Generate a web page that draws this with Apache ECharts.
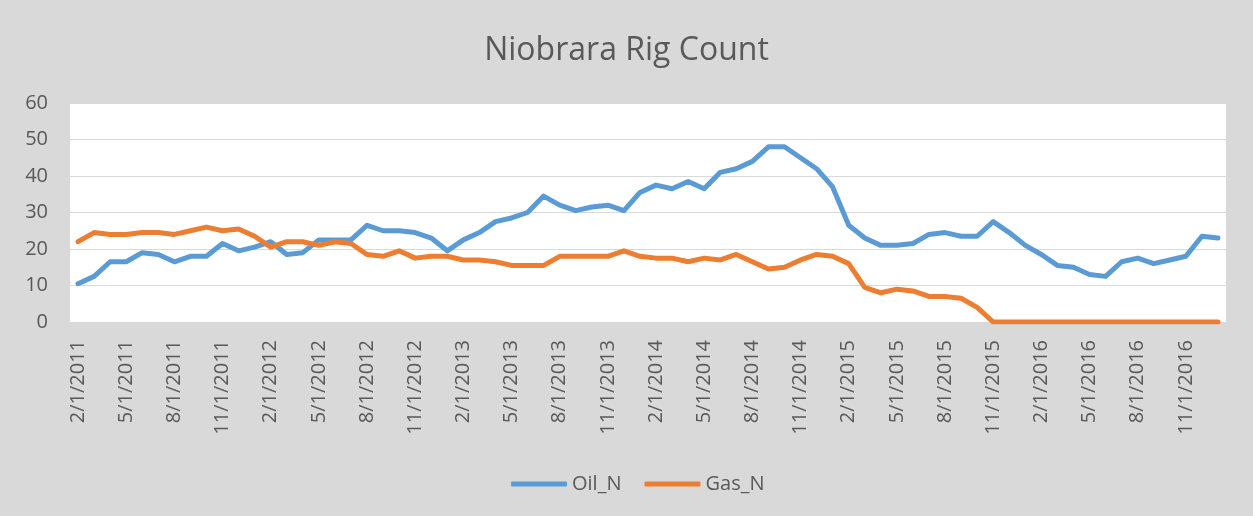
<!DOCTYPE html>
<html>
<head>
<meta charset="utf-8">
<script src="https://cdn.jsdelivr.net/npm/echarts@6/dist/echarts.min.js"></script>
<style>
html,body{margin:0;padding:0;background:#d9d9d9;}
#chart{width:1253px;height:516px;}
</style>
</head>
<body>
<div id="chart"></div>
<script>
const months = [
 "2/1/2011","3/1/2011","4/1/2011","5/1/2011","6/1/2011","7/1/2011","8/1/2011","9/1/2011","10/1/2011","11/1/2011","12/1/2011",
 "1/1/2012","2/1/2012","3/1/2012","4/1/2012","5/1/2012","6/1/2012","7/1/2012","8/1/2012","9/1/2012","10/1/2012","11/1/2012","12/1/2012",
 "1/1/2013","2/1/2013","3/1/2013","4/1/2013","5/1/2013","6/1/2013","7/1/2013","8/1/2013","9/1/2013","10/1/2013","11/1/2013","12/1/2013",
 "1/1/2014","2/1/2014","3/1/2014","4/1/2014","5/1/2014","6/1/2014","7/1/2014","8/1/2014","9/1/2014","10/1/2014","11/1/2014","12/1/2014",
 "1/1/2015","2/1/2015","3/1/2015","4/1/2015","5/1/2015","6/1/2015","7/1/2015","8/1/2015","9/1/2015","10/1/2015","11/1/2015","12/1/2015",
 "1/1/2016","2/1/2016","3/1/2016","4/1/2016","5/1/2016","6/1/2016","7/1/2016","8/1/2016","9/1/2016","10/1/2016","11/1/2016","12/1/2016",
 "1/1/2017"
];
const oilN = [
 10.5,12.5,16.5,16.5,19,18.5,16.5,18,18,21.5,19.5,
 20.5,22,18.5,19,22.5,22.5,22.5,26.5,25,25,24.5,23,
 19.5,22.5,24.5,27.5,28.5,30,34.5,32,30.5,31.5,32,30.5,
 35.5,37.5,36.5,38.5,36.5,41,42,44,48,48,45,42,
 37,26.5,23,21,21,21.5,24,24.5,23.5,23.5,27.5,24.5,
 21,18.5,15.5,15,13,12.5,16.5,17.5,16,17,18,23.5,
 23
];
const gasN = [
 22,24.5,24,24,24.5,24.5,24,25,26,25,25.5,
 23.5,20.5,22,22,21,22,21.5,18.5,18,19.5,17.5,18,
 18,17,17,16.5,15.5,15.5,15.5,18,18,18,18,19.5,
 18,17.5,17.5,16.5,17.5,17,18.5,16.5,14.5,15,17,18.5,
 18,16,9.5,8,9,8.5,7,7,6.5,4,0,0,
 0,0,0,0,0,0,0,0,0,0,0,0,
 0
];
const yTicks = [0,10,20,30,40,50,60];

const textColor = '#595959';
const fontFam = '"Open Sans", "Noto Sans", sans-serif';
const chart = echarts.init(document.getElementById('chart'));
chart.setOption({
  animation: false,
  backgroundColor: '#d9d9d9',
  title: {
    text: 'Niobrara Rig Count',
    left: 'center',
    top: 30,
    textStyle: { color: textColor, fontSize: 32, fontWeight: 'normal', fontFamily: fontFam }
  },
  legend: {
    left: 506,
    top: 469,
    itemWidth: 56,
    itemHeight: 5,
    itemGap: 23,
    icon: 'roundRect',
    textStyle: { color: textColor, fontSize: 20, fontFamily: fontFam },
    data: ['Oil_N', 'Gas_N']
  },
  grid: {
    left: 70, right: 27, top: 103, bottom: 194,
    show: true, backgroundColor: '#ffffff', borderWidth: 0
  },
  xAxis: {
    type: 'category',
    data: months,
    boundaryGap: true,
    axisLine: { show: true, lineStyle: { color: '#d9d9d9', width: 1 } },
    axisTick: { show: false },
    axisLabel: { interval: 2, rotate: 90, margin: 18, color: textColor, fontSize: 20, fontFamily: fontFam }
  },
  yAxis: {
    type: 'value',
    min: yTicks[0],
    max: yTicks[yTicks.length - 1],
    interval: 10,
    axisLine: { show: false },
    axisTick: { show: false },
    splitLine: { lineStyle: { color: '#d9d9d9', width: 1 } },
    axisLabel: { margin: 22, color: textColor, fontSize: 20, fontFamily: fontFam }
  },
  series: [
    { name: 'Oil_N', type: 'line', data: oilN, showSymbol: false, color: '#5b9bd5',
      lineStyle: { width: 5, color: '#5b9bd5', cap: 'round', join: 'round' } },
    { name: 'Gas_N', type: 'line', data: gasN, showSymbol: false, color: '#ed7d31',
      lineStyle: { width: 5, color: '#ed7d31', cap: 'round', join: 'round' } }
  ]
});
</script>
</body>
</html>
